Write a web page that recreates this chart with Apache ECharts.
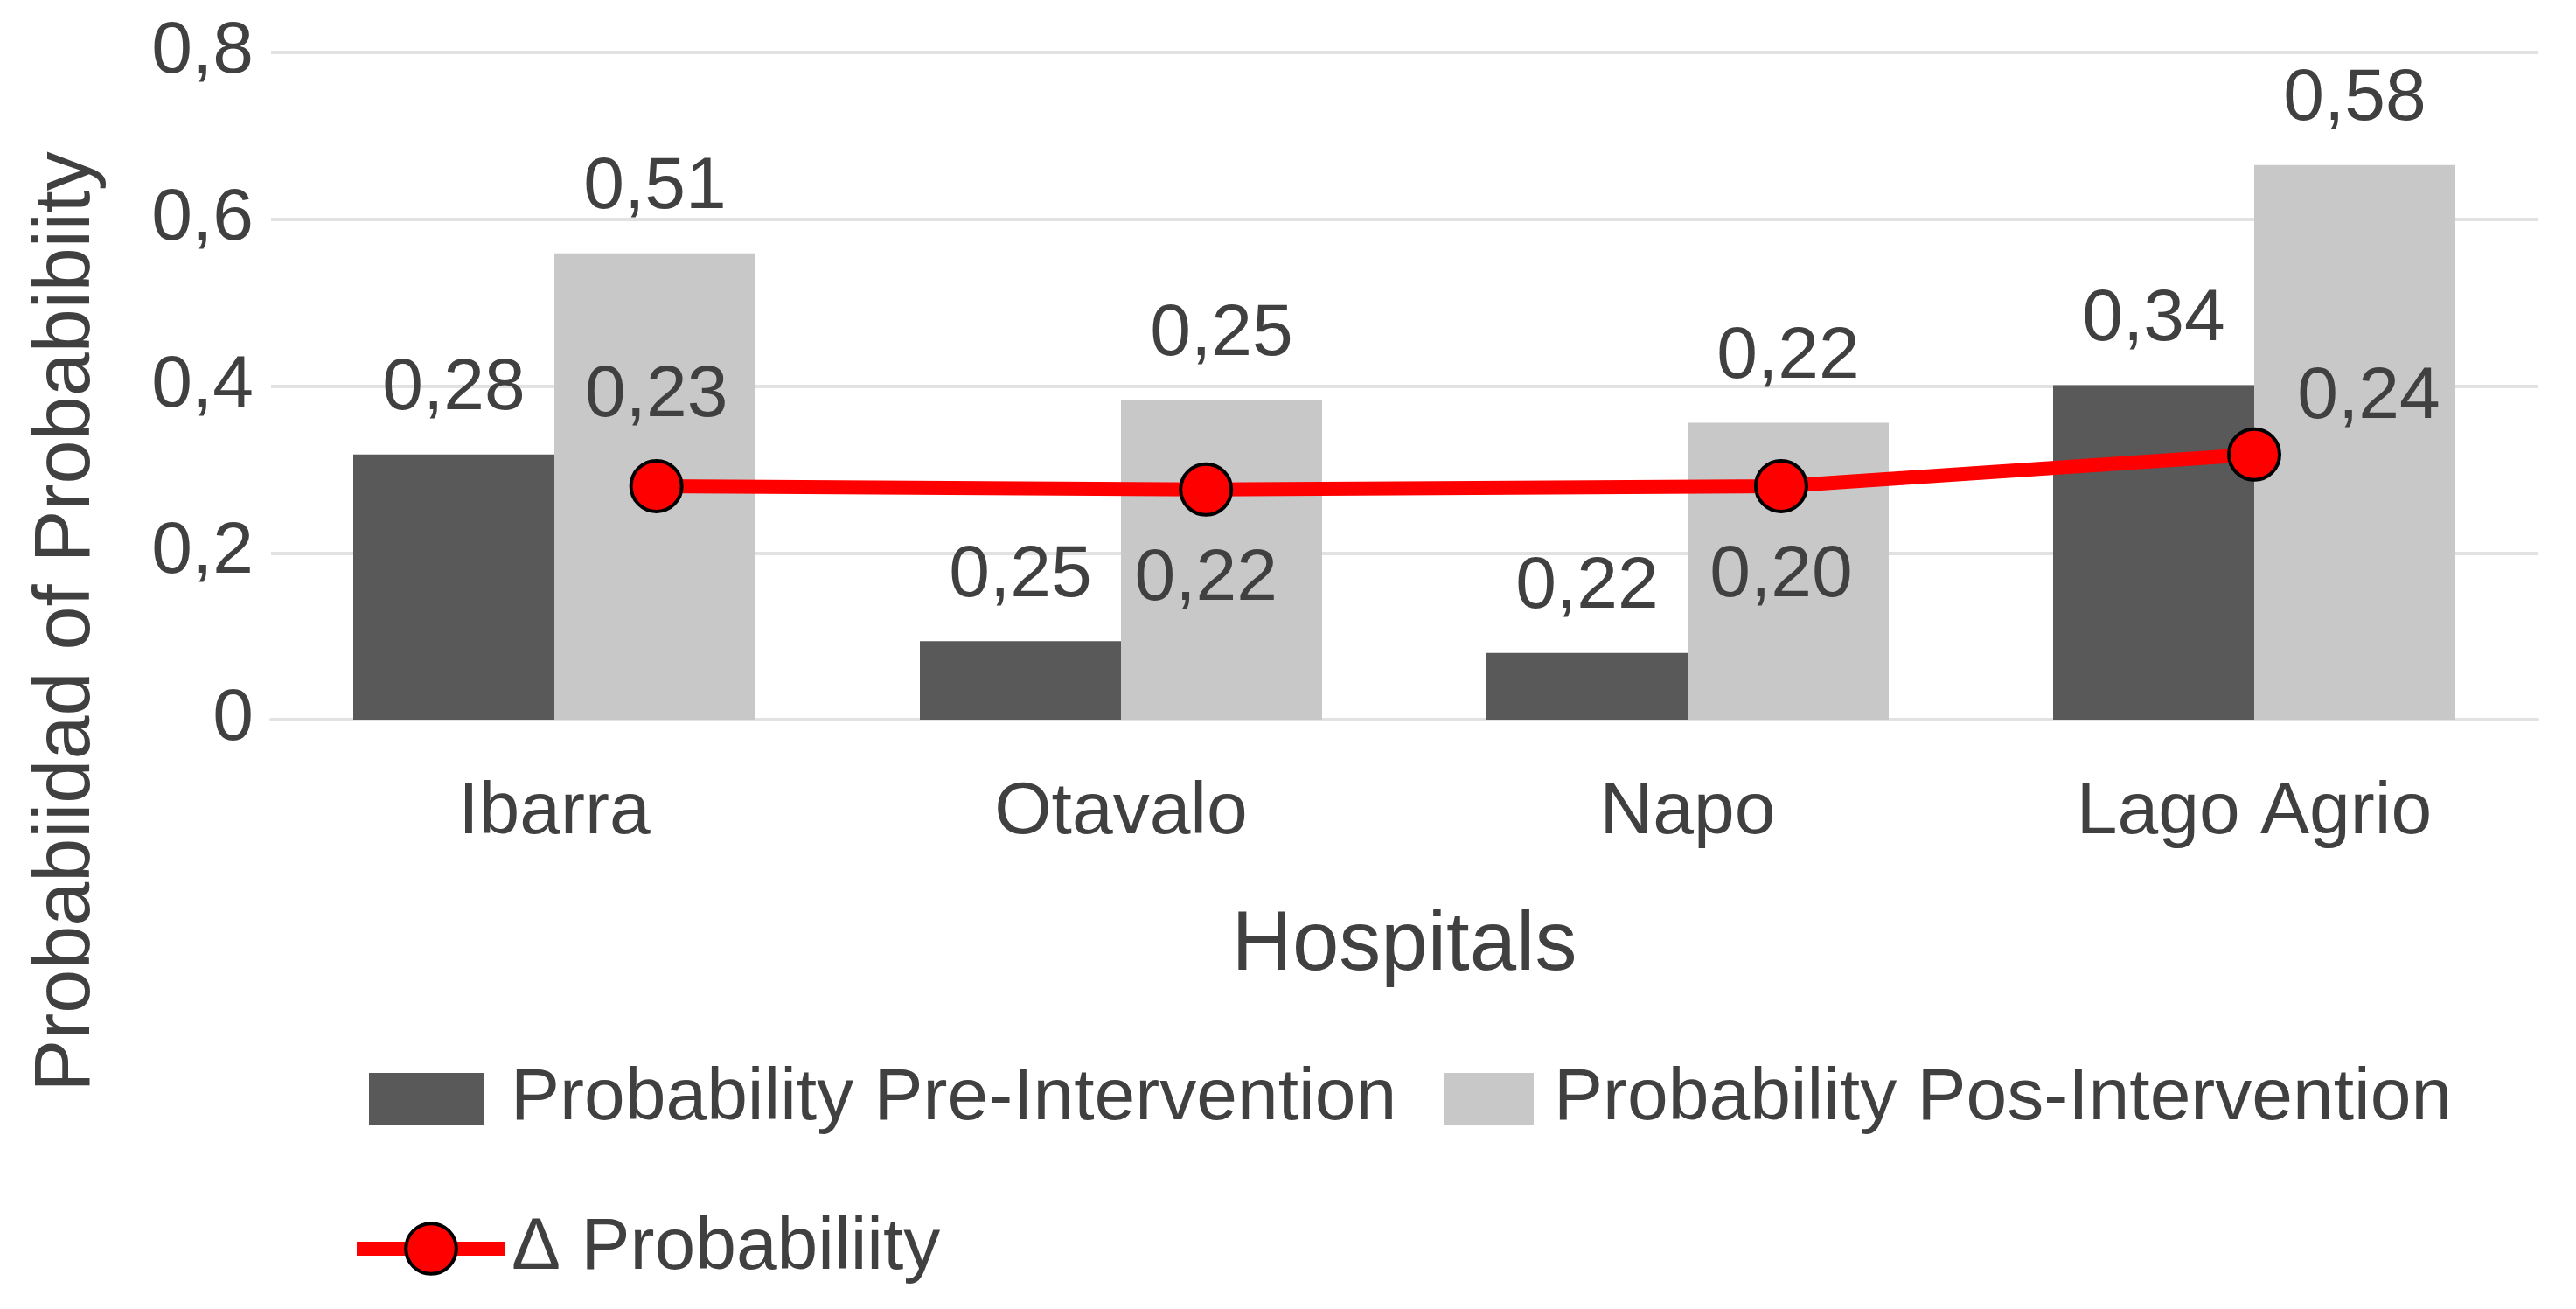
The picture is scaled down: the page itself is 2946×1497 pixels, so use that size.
<!DOCTYPE html>
<html>
<head>
<meta charset="utf-8">
<script src="https://cdn.jsdelivr.net/npm/echarts@6/dist/echarts.min.js"></script>
<style>
html,body{margin:0;padding:0;background:#fff;}
#chart{width:2946px;height:1497px;}
</style>
</head>
<body>
<div id="chart"></div>
<script>
// ---- data ----
const categories = ['Ibarra', 'Otavalo', 'Napo', 'Lago Agrio'];
const preValues = [0.318, 0.094, 0.080, 0.401];
const posValues = [0.559, 0.383, 0.356, 0.665];
const deltaValues = [0.280, 0.276, 0.280, 0.318];
const deltaX = [0.18, 1.15, 2.165, 3.0];
const preLabels = ['0,28', '0,25', '0,22', '0,34'];
const posLabels = ['0,51', '0,25', '0,22', '0,58'];
const deltaLabels = ['0,23', '0,22', '0,20', '0,24'];
const yTicks = [0, 0.2, 0.4, 0.6, 0.8];
const seriesNames = ['Probability Pre-Intervention', 'Probability Pos-Intervention', '\u0394 Probabiliity'];
const xTitle = 'Hospitals';
const yTitle = 'Probabiidad of Probabibiity';

// ---- styling ----
const FONT = "'Liberation Sans', Arial, sans-serif";
const TXT = '#404040';
const FS = 84;
const deltaLabelPlacement = [
  { position: 'top' },
  { position: 'bottom' },
  { position: 'bottom' },
  { position: 'top', offset: [131, 38] }
];

const chart = echarts.init(document.getElementById('chart'), null, { renderer: 'canvas' });

const deltaData = deltaValues.map((v, i) => ({
  value: [deltaX[i], v],
  label: deltaLabelPlacement[i]
}));

const legendText = { fontFamily: FONT, fontSize: FS, color: TXT };

chart.setOption({
  backgroundColor: '#ffffff',
  animation: false,
  textStyle: { fontFamily: FONT },
  grid: { left: 310, right: 44, top: 60, bottom: 674, containLabel: false },
  legend: [
    {
      data: [seriesNames[0]], left: 422, top: 1215, padding: 0, itemWidth: 131, itemHeight: 60,
      icon: 'rect', textStyle: Object.assign({ padding: [0, 0, 0, 26] }, legendText)
    },
    {
      data: [seriesNames[1]], left: 1651, top: 1215, padding: 0, itemWidth: 103, itemHeight: 60,
      icon: 'rect', textStyle: Object.assign({ padding: [0, 0, 0, 18] }, legendText)
    },
    {
      data: [seriesNames[2]], left: 400, top: 1386, padding: 0, itemWidth: 170, itemHeight: 72,
      lineStyle: { color: '#FF0000', width: 16 },
      itemStyle: { color: '#FF0000', borderColor: '#000000', borderWidth: 4 },
      textStyle: Object.assign({ padding: [0, 0, 0, 2] }, legendText)
    }
  ],
  xAxis: [
    {
      type: 'category',
      data: categories,
      axisLine: { show: true, lineStyle: { color: '#E2E2E2', width: 4 } },
      axisTick: { show: false },
      axisLabel: { fontFamily: FONT, fontSize: FS, color: TXT, margin: 65 },
      name: xTitle,
      nameLocation: 'middle',
      nameGap: 212,
      nameTextStyle: { fontFamily: FONT, fontSize: 96, color: TXT, verticalAlign: 'top' }
    },
    {
      type: 'value',
      min: -0.5,
      max: 3.5,
      show: false
    }
  ],
  yAxis: {
    type: 'value',
    min: yTicks[0],
    max: yTicks[yTicks.length - 1],
    interval: yTicks[1] - yTicks[0],
    axisLine: { show: false },
    axisTick: { show: false },
    splitLine: { lineStyle: { color: '#E2E2E2', width: 4 } },
    axisLabel: {
      fontFamily: FONT, fontSize: FS, color: TXT, margin: 20,
      formatter: v => String(Math.round(v * 10) / 10).replace('.', ',')
    }
  },
  graphic: [
    {
      type: 'text',
      x: 77, y: 711,
      rotation: Math.PI / 2,
      style: {
        text: yTitle, fontFamily: FONT, fontSize: 90, fill: TXT,
        align: 'center', verticalAlign: 'middle'
      }
    }
  ],
  series: [
    {
      name: seriesNames[0],
      type: 'bar',
      data: preValues,
      barWidth: 230,
      barGap: '0%',
      itemStyle: { color: '#595959' },
      label: {
        show: true, position: 'top', distance: 33,
        fontFamily: FONT, fontSize: FS, color: TXT,
        formatter: p => preLabels[p.dataIndex]
      }
    },
    {
      name: seriesNames[1],
      type: 'bar',
      data: posValues,
      barWidth: 230,
      barGap: '0%',
      itemStyle: { color: '#C8C8C8' },
      label: {
        show: true, position: 'top', distance: 33,
        fontFamily: FONT, fontSize: FS, color: TXT,
        formatter: p => posLabels[p.dataIndex]
      }
    },
    {
      name: seriesNames[2],
      type: 'line',
      xAxisIndex: 1,
      data: deltaData,
      z: 5,
      symbol: 'circle',
      symbolSize: 58,
      lineStyle: { color: '#FF0000', width: 16 },
      itemStyle: { color: '#FF0000', borderColor: '#000000', borderWidth: 4 },
      label: {
        show: true, distance: 30,
        fontFamily: FONT, fontSize: FS, color: TXT,
        formatter: p => deltaLabels[p.dataIndex]
      }
    }
  ]
});
</script>
</body>
</html>
